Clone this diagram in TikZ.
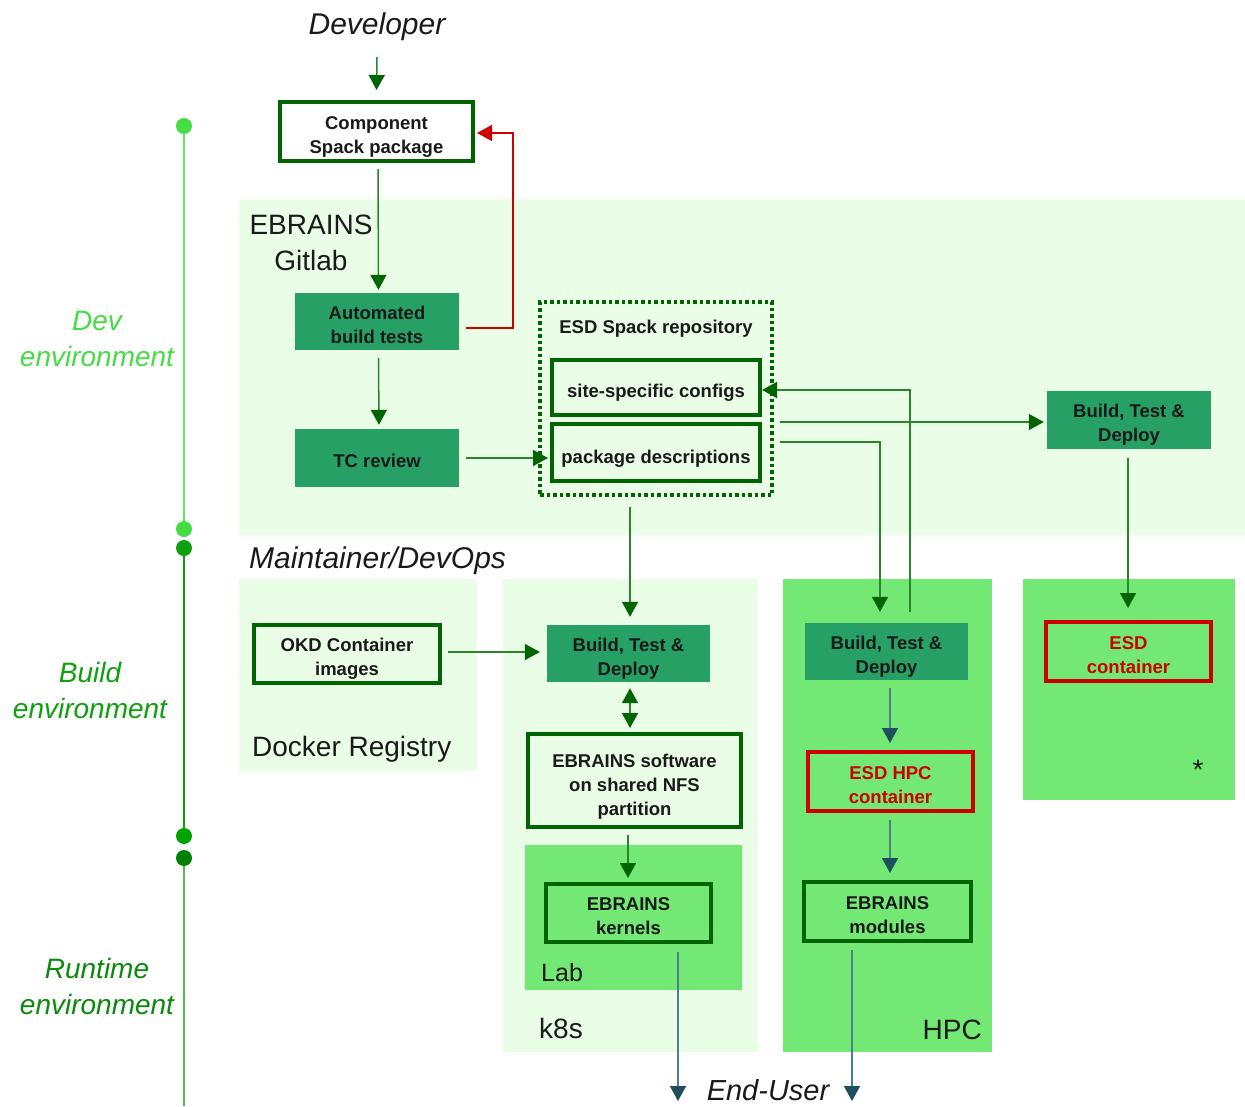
\documentclass[tikz,border=0pt]{standalone}
\usepackage{fontspec}
\setmainfont{Liberation Sans}
\usetikzlibrary{arrows.meta}
\definecolor{lightbg}{HTML}{E9FDE7}
\definecolor{midbg}{HTML}{74E874}
\definecolor{boxg}{HTML}{27A065}
\definecolor{dgreen}{HTML}{006400}
\definecolor{agreen}{HTML}{2A842A}
\definecolor{redc}{HTML}{CC0000}
\definecolor{tealc}{HTML}{4A7F8C}
\definecolor{tealh}{HTML}{1D4F5E}
\definecolor{txt}{HTML}{1A1A1A}
\definecolor{devc}{HTML}{44DD44}
\definecolor{devl}{HTML}{66E466}
\definecolor{buildc}{HTML}{0EA00E}
\definecolor{runc}{HTML}{0A8A0A}
\definecolor{runl}{HTML}{5CB85C}
\definecolor{dot4}{HTML}{00A400}
\definecolor{dot5}{HTML}{008000}
\newcommand{\bfnt}{\bfseries\fontsize{18.5}{24}\selectfont}
\newcommand{\bignt}{\fontsize{28}{36}\selectfont}
\tikzset{
  obox/.style={draw=dgreen, line width=4pt, inner sep=0pt},
  fbox/.style={fill=boxg, inner sep=0pt},
  rbox/.style={draw=redc, line width=4pt, inner sep=0pt},
  btxt/.style={font=\bfnt, text=txt, align=center, anchor=base, inner sep=0pt},
  rtxt/.style={btxt, text=redc},
  garr/.style={draw=agreen, line width=1.5pt, -{Triangle[width=16pt,length=15pt,color=dgreen]}},
  darr/.style={draw=agreen, line width=1.5pt, {Triangle[width=16pt,length=15pt,color=dgreen]}-{Triangle[width=16pt,length=15pt,color=dgreen]}},
  tarr/.style={draw=tealc, line width=1.5pt, -{Triangle[width=16pt,length=15pt,color=tealh]}},
  rarr/.style={draw=redc, line width=1.5pt, -{Triangle[width=16pt,length=15pt,color=redc]}},
  lbl/.style={font=\bignt, text=txt, inner sep=0pt},
  envl/.style={font=\itshape\fontsize{28}{36}\selectfont, align=center, inner sep=0pt},
  dot/.style={circle, minimum size=16pt, inner sep=0pt},
}
\begin{document}
\begin{tikzpicture}[x=1pt,y=-1pt]
\useasboundingbox (0,0) rectangle (1245,1106);
% backgrounds
\fill[lightbg] (239,199) rectangle (1245,535);
\fill[lightbg] (239,579) rectangle (477,771);
\fill[lightbg] (503,579) rectangle (758,1052);
\fill[midbg] (525,845) rectangle (742,990);
\fill[midbg] (783,579) rectangle (992,1052);
\fill[midbg] (1023,579) rectangle (1235,800);

% timeline
\draw[devl, line width=2pt] (184,126) -- (184,529);
\draw[buildc, line width=2pt] (184,548) -- (184,836);
\draw[runl, line width=2.5pt] (184,858) -- (184,1106);
\node[dot, fill=devc] (t1) at (184,126) {};
\node[dot, fill=devc] (t2) at (184,529) {};
\node[dot, fill=buildc] (t3) at (184,548) {};
\node[dot, fill=dot4] (t4) at (184,836) {};
\node[dot, fill=dot5] (t5) at (184,858) {};
\node[envl, text=devc] (envdev) at (97,339) {Dev\\environment};
\node[envl, text=buildc] (envbuild) at (90,690) {Build\\environment};
\node[envl, text=runc] (envrun) at (97,986) {Runtime\\environment};

% labels
\node[font=\itshape\fontsize{30}{36}\selectfont, text=txt, inner sep=0pt] (dev) at (377,27) {Developer};
\node[lbl, align=center] (gitlab) at (311,243) {EBRAINS\\Gitlab};
\node[font=\itshape\fontsize{30}{36}\selectfont, text=txt, anchor=west, inner sep=0pt] (maint) at (249,561) {Maintainer/DevOps};
\node[lbl, anchor=west] (docker) at (252,749) {Docker Registry};
\node[font=\fontsize{25}{30}\selectfont, text=txt, anchor=west, inner sep=0pt] (lab) at (541,973) {Lab};
\node[lbl, anchor=west] (k8s) at (539,1028) {k8s};
\node[lbl, anchor=east] (hpc) at (982,1030) {HPC};
\node[lbl] (star) at (1198,770) {*};
\node[font=\itshape\fontsize{29}{36}\selectfont, text=txt] (eu) at (768,1090) {End-User};

% boxes
\node[obox, minimum width=193pt, minimum height=59pt] (comp) at (376.5,131.5) {};
\node[fbox, minimum width=164pt, minimum height=57pt] (auto) at (377,321.5) {};
\node[fbox, minimum width=164pt, minimum height=58pt] (tc) at (377,458) {};
\node[draw=dgreen, line width=3.5pt, dash pattern=on 3.5pt off 3pt, minimum width=232pt, minimum height=193pt, inner sep=0pt] (esd) at (656,398.5) {};
\node[obox, minimum width=208pt, minimum height=55pt] (site) at (656,387.5) {};
\node[obox, minimum width=208pt, minimum height=57pt] (pkg) at (656,452.5) {};
\node[fbox, minimum width=164pt, minimum height=58pt] (trb) at (1129,420) {};
\node[obox, minimum width=186pt, minimum height=58pt] (okd) at (347,654) {};
\node[fbox, minimum width=163pt, minimum height=57pt] (kb) at (628.5,653.5) {};
\node[obox, minimum width=213pt, minimum height=93pt] (nfs) at (634.5,780.5) {};
\node[obox, minimum width=165pt, minimum height=58pt] (kern) at (628.5,913) {};
\node[fbox, minimum width=163pt, minimum height=57pt] (hb) at (886.5,651.5) {};
\node[rbox, minimum width=165pt, minimum height=59pt] (hc) at (890.5,781.5) {};
\node[obox, minimum width=167pt, minimum height=59pt] (mods) at (887.5,911.5) {};
\node[rbox, minimum width=165pt, minimum height=59pt] (ec) at (1128.5,651.5) {};

% box texts (base anchor = last line baseline)
\node[btxt] (comp-t) at ([yshift=-22]comp.center) {Component\\Spack package};
\node[btxt] (auto-t) at ([yshift=-21.5]auto.center) {Automated\\build tests};
\node[btxt] (tc-t) at ([yshift=-9.5]tc.center) {TC review};
\node[btxt] (esd-t) at (656,333) {ESD Spack repository};
\node[btxt] (site-t) at ([yshift=-9.5]site.center) {site-specific configs};
\node[btxt] (pkg-t) at ([yshift=-10.5]pkg.center) {package descriptions};
\node[btxt] (trb-t) at ([yshift=-21.5]trb.center) {Build, Test \&\\Deploy};
\node[btxt] (okd-t) at ([yshift=-21]okd.center) {OKD Container\\images};
\node[btxt] (kb-t) at ([yshift=-21.5]kb.center) {Build, Test \&\\Deploy};
\node[btxt] (nfs-t) at ([yshift=-34.5]nfs.center) {EBRAINS software\\on shared NFS\\partition};
\node[btxt] (kern-t) at ([yshift=-21.5]kern.center) {EBRAINS\\kernels};
\node[btxt] (hb-t) at ([yshift=-21.5]hb.center) {Build, Test \&\\Deploy};
\node[rtxt] (hc-t) at ([yshift=-21.5]hc.center) {ESD HPC\\container};
\node[btxt] (mods-t) at ([yshift=-21.5]mods.center) {EBRAINS\\modules};
\node[rtxt] (ec-t) at ([yshift=-21.5]ec.center) {ESD\\container};

\coordinate (eu1) at (678,1101);
\coordinate (eu2) at (852,1101);

% connectors
\draw[garr] ([yshift=-16]dev.south) -- ([yshift=10]comp.north);
\draw[garr] ([xshift=1.5,yshift=-6]comp.south) -- ([xshift=1.5,yshift=3]auto.north);
\draw[rarr] ([xshift=7,yshift=-6.5]auto.east) -- ++(47,0) |- ([xshift=2,yshift=-1.5]comp.east);
\draw[garr] ([xshift=1.5,yshift=-8]auto.south) -- ([xshift=2,yshift=4]tc.north);
\draw[garr] ([xshift=7]tc.east) -- ([xshift=-2,yshift=-5.5]pkg.west);
\draw[garr] ([xshift=1.5,yshift=-10]kb.north |- esd.south) -- ([xshift=1.5,yshift=8]kb.north);
\draw[garr] ([xshift=23.5,yshift=11]hb.north) |- ([yshift=-2.5]site.east);
\draw[garr] ([xshift=6,yshift=-2]esd.east |- trb.west) -- ([xshift=-3,yshift=-2]trb.west);
\draw[garr] ([xshift=6,yshift=-43.5]esd.east) -| ([xshift=-6.5,yshift=11]hb.north);
\draw[garr] ([xshift=-1,yshift=-9]trb.south) -- ([xshift=-0.5,yshift=12]ec.north);
\draw[garr] ([xshift=6,yshift=2]okd.east) -- ([xshift=-7,yshift=1.5]kb.west);
\draw[darr] ([xshift=1.5,yshift=-6]kb.south) -- ([xshift=-4.5,yshift=4]nfs.north);
\draw[garr] ([xshift=-6.5,yshift=-6]nfs.south) -- ([xshift=-0.5,yshift=4]kern.north);
\draw[tarr] ([xshift=49.5,yshift=-8]kern.south) -- (eu1);
\draw[tarr] ([xshift=3.5,yshift=-8]hb.south) -- ([xshift=-0.5,yshift=7]hc.north);
\draw[tarr] ([xshift=-0.5,yshift=-7]hc.south) -- ([xshift=2.5,yshift=7]mods.north);
\draw[tarr] ([xshift=-35.5,yshift=-7]mods.south) -- (eu2);
\end{tikzpicture}
\end{document}
